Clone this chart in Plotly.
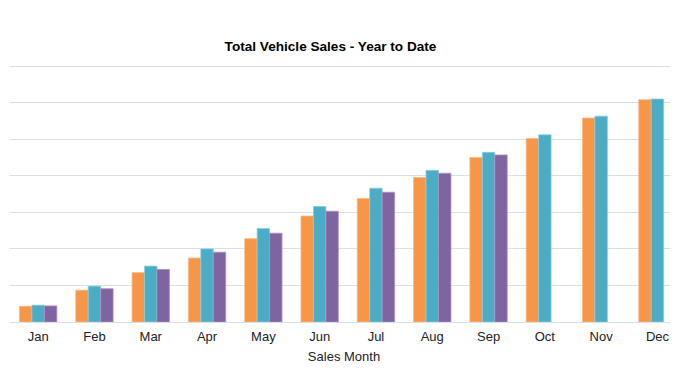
import plotly.graph_objects as go

months = ["Jan", "Feb", "Mar", "Apr", "May", "Jun", "Jul", "Aug", "Sep", "Oct", "Nov", "Dec"]
series_a = [0.43, 0.87, 1.35, 1.75, 2.28, 2.90, 3.38, 3.95, 4.50, 5.02, 5.58, 6.08]
series_b = [0.46, 0.98, 1.53, 2.00, 2.56, 3.16, 3.66, 4.15, 4.64, 5.12, 5.63, 6.10]
series_c = [0.44, 0.91, 1.44, 1.91, 2.43, 3.03, 3.55, 4.07, 4.57, None, None, None]

colors = ["#F79646", "#4BACC6", "#8064A2"]
edges = ["#FAB987", "#8ACBDC", "#A993C2"]

W, H = 670, 373  # page body has an 8px margin inside the 678x381 window

fig = go.Figure()
for name, vals, c, e in zip(["Series A", "Series B", "Series C"], [series_a, series_b, series_c], colors, edges):
    fig.add_trace(go.Bar(x=months, y=vals, name=name, marker=dict(color=c, line=dict(color=e, width=0.8))))

fig.update_layout(
    width=W, height=H,
    margin=dict(l=2, r=0, t=57, b=59, autoexpand=False),
    paper_bgcolor="white", plot_bgcolor="white",
    barmode="group", bargap=0.336, bargroupgap=0,
    showlegend=False,
    font=dict(family="Liberation Sans, Arial, sans-serif", color="#222222", size=13),
    title=dict(text="<b>Total Vehicle Sales - Year to Date</b>", x=322.5 / W, xanchor="center",
               y=1 - 38 / H, yanchor="middle", font=dict(size=13.6, color="#000000")),
    xaxis=dict(range=[-0.5, 11.365], showgrid=False, showline=True, linecolor="#D9DFE8", linewidth=1,
               ticks="outside", ticklen=2, tickcolor="rgba(0,0,0,0)",
               tickfont=dict(size=13, color="#222222"), automargin=False,
               title=dict(text="Sales Month", font=dict(size=13, color="#222222"), standoff=9)),
    yaxis=dict(range=[0, 7.03], tickvals=[1, 2, 3, 4, 5, 6, 7], showgrid=True, gridcolor="#D9DFE8", gridwidth=1,
               showticklabels=False, zeroline=False, ticks="", automargin=False),
)

fig.write_html("out.html")
